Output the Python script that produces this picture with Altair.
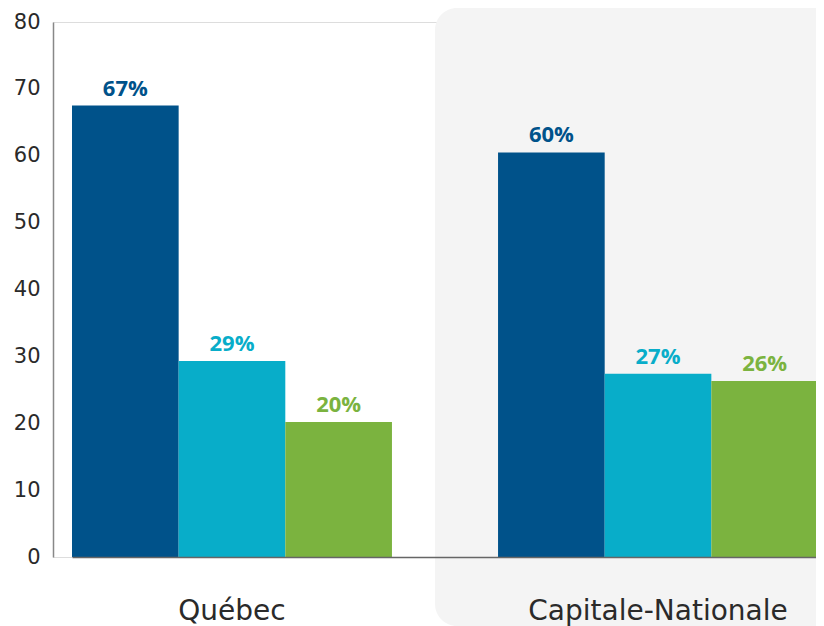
import altair as alt
import pandas as pd

groups = ["Québec", "Capitale-Nationale"]
series = ["Série 1", "Série 2", "Série 3"]
values_quebec = [67.5, 29.3, 20.2]
values_capitale = [60.5, 27.4, 26.3]
labels_quebec = ["67%", "29%", "20%"]
labels_capitale = ["60%", "27%", "26%"]
colors = ["#00528A", "#08ADC9", "#7BB33F"]
y_ticks = [0, 10, 20, 30, 40, 50, 60, 70, 80]

rows = []
for g, vals, labs in [(groups[0], values_quebec, labels_quebec), (groups[1], values_capitale, labels_capitale)]:
    for s, v, l in zip(series, vals, labs):
        rows.append({"group": g, "series": s, "value": v, "label": l})
df = pd.DataFrame(rows)

W, H = 763, 535
AXFONT = "DejaVu Sans"
LBLFONT = "Open Sans"

x_enc = alt.X(
    "group:N",
    sort=groups,
    scale=alt.Scale(domain=groups, range=[19, 765], paddingInner=0.249, paddingOuter=0),
    axis=alt.Axis(
        title=None, labelFontSize=28, labelColor="#2a2a2a", labelFont=AXFONT, labelFontWeight="normal",
        labelPadding=40, labelLimit=0, ticks=False, domainColor="#666666", domainWidth=1.5,
        labelAngle=0, zindex=1,
    ),
)
xoff = alt.XOffset("series:N", sort=series, scale=alt.Scale(domain=series, paddingInner=0, paddingOuter=0))
y_enc = alt.Y(
    "value:Q",
    scale=alt.Scale(domain=[0, 80], nice=False, zero=True),
    axis=alt.Axis(
        title=None, values=y_ticks, labelFontSize=21, labelColor="#2a2a2a", labelFont=AXFONT,
        labelFontWeight="normal", ticks=False, grid=False, domainColor="#888888", domainWidth=1.5,
        labelPadding=13, zindex=1,
    ),
)
color_enc = alt.Color("series:N", scale=alt.Scale(domain=series, range=colors), legend=None)

panel = alt.Chart(pd.DataFrame({"group": [groups[1]]})).mark_rect(
    color="#F4F4F4", cornerRadius=22
).encode(
    x=alt.value(382), x2=alt.value(800), y=alt.value(-14), y2=alt.value(H + 69)
)

bars = alt.Chart(df).mark_bar().encode(x=x_enc, xOffset=xoff, y=y_enc, color=color_enc)

texts = alt.Chart(df).mark_text(
    dy=-10, baseline="alphabetic", fontSize=22, fontWeight="bold", font=LBLFONT
).encode(x=x_enc, xOffset=xoff, y=y_enc, text="label:N", color=color_enc)

chart = alt.layer(panel, bars, texts).properties(
    width=W, height=H,
    padding={"left": 45, "top": 14, "right": 0, "bottom": 69},
    autosize=alt.AutoSizeParams(type="none"),
).configure_view(stroke=None).configure(background="white")

chart.save("out.html", embed_options={"renderer": "svg", "actions": False})
